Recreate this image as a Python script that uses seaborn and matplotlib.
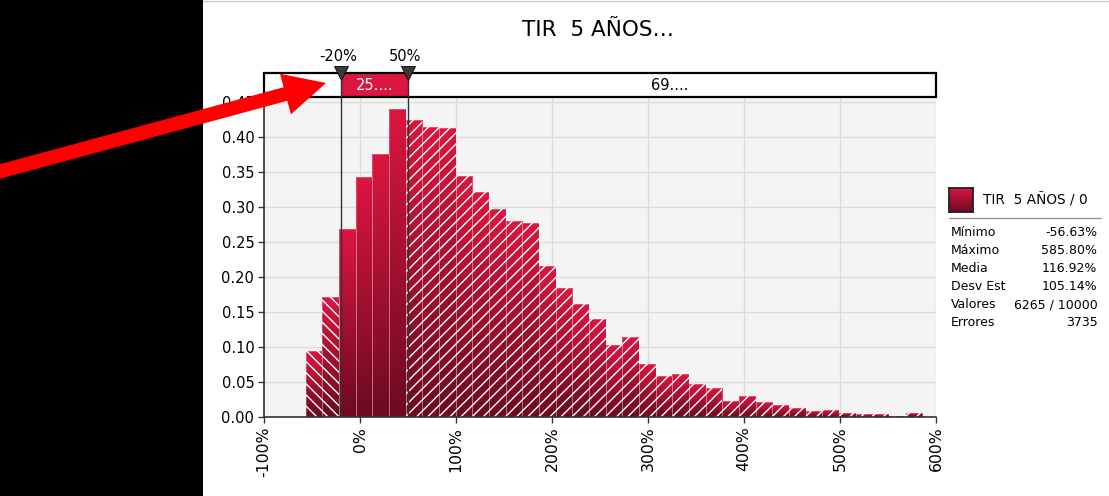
import numpy as np
import pandas as pd
import matplotlib
matplotlib.use("Agg")
import matplotlib.pyplot as plt
import seaborn as sns
from matplotlib.colors import LinearSegmentedColormap
from matplotlib.patches import Rectangle, FancyArrow
from matplotlib.lines import Line2D
from matplotlib.transforms import IdentityTransform

# datos del histograma (densidad por bin)
val_min = -56.63
val_max = 585.80
n_bins = 37
density = [0.095, 0.172, 0.268, 0.343, 0.376, 0.440, 0.424, 0.414, 0.413, 0.344,
           0.321, 0.297, 0.280, 0.277, 0.216, 0.184, 0.161, 0.140, 0.103, 0.115,
           0.076, 0.059, 0.061, 0.047, 0.041, 0.023, 0.030, 0.021, 0.017, 0.013,
           0.009, 0.010, 0.006, 0.004, 0.004, 0.0014, 0.006]

lim_lo, lim_hi = -20, 50
region_labels = ["", "25....", "69...."]
x_ticks = [-100, 0, 100, 200, 300, 400, 500, 600]
y_ticks = [0.00, 0.05, 0.10, 0.15, 0.20, 0.25, 0.30, 0.35, 0.40, 0.45]

title = "TIR  5 AÑOS…"
series_name = "TIR  5 AÑOS / 0"
stat_names = ["Mínimo", "Máximo", "Media", "Desv Est", "Valores", "Errores"]
stat_values = ["-56.63%", "585.80%", "116.92%", "105.14%", "6265 / 10000", "3735"]

W, H = 1109, 496
def px(x, y, w, h):
    return [x / W, 1 - (y + h) / H, w / W, h / H]

sns.set_style("white")
plt.rcParams["font.family"] = ["DejaVu Sans"]
plt.rcParams["hatch.linewidth"] = 1.0
plt.rcParams["text.color"] = "black"
plt.rcParams["xtick.color"] = "black"
plt.rcParams["ytick.color"] = "black"

crimson = "#dc1640"
cmap = LinearSegmentedColormap.from_list("tir", ["#6c0a20", crimson])
grad = np.linspace(0, 1, 256).reshape(-1, 1)

fig = plt.figure(figsize=(W / 100, H / 100), dpi=100)
fig.patch.set_facecolor("white")

# panel negro a la izquierda
fig.add_artist(Rectangle((0, 0), 203 / W, 1, transform=fig.transFigure,
                         facecolor="black", edgecolor="none", zorder=1))
fig.add_artist(Line2D([203 / W, 1], [1 - 0.5 / H, 1 - 0.5 / H], transform=fig.transFigure,
                      color="#c8c8c8", lw=1, zorder=1))

ax = fig.add_axes(px(264, 97, 672, 320))
ax.set_facecolor("#f4f4f4")

edges = np.linspace(val_min, val_max, n_bins + 1)
centers = (edges[:-1] + edges[1:]) / 2
bw = edges[1] - edges[0]
df = pd.DataFrame({"tir": centers, "density": density})

sns.histplot(data=df, x="tir", weights="density", binwidth=bw, binrange=(val_min, val_max),
             stat="count", ax=ax, color=crimson, alpha=1, linewidth=0,
             edgecolor="none", zorder=2)

# degradado por barra
for p in list(ax.patches):
    x0 = p.get_x()
    w, h = p.get_width(), p.get_height()
    im = ax.imshow(grad, cmap=cmap, origin="lower", aspect="auto",
                   extent=[x0, x0 + w, 0, h], zorder=2.1, interpolation="bilinear")
    im.set_clip_path(p)

# rayado fuera del rango seleccionado
dens = np.array(density)
left = centers < lim_lo
right = centers > lim_hi
ax.bar(centers[left], dens[left], width=bw, fill=False, hatch="\\\\\\",
       edgecolor="white", linewidth=0, zorder=2.2)
ax.bar(centers[right], dens[right], width=bw, fill=False, hatch="///",
       edgecolor="white", linewidth=0, zorder=2.2)
ax.bar(centers, dens, width=bw, fill=False, edgecolor=(1, 1, 1, 0.25),
       linewidth=0.7, zorder=2.3)

for xv in (lim_lo, lim_hi):
    ax.axvline(xv, color="#333333", lw=1, zorder=3)

ax.set_xlim(-100, 600)
ax.set_ylim(0, 320 / 700)
ax.set_xticks(x_ticks)
ax.set_xticklabels([f"{t}%" for t in x_ticks], rotation=90, fontsize=11.3)
ax.set_yticks(y_ticks)
ax.set_yticklabels([f"{t:.2f}" for t in y_ticks], fontsize=10.5)
ax.set_xlabel("")
ax.set_ylabel("")
ax.grid(True, color="#dcdcdc", lw=1)
ax.set_axisbelow(True)
for s in ("top", "right"):
    ax.spines[s].set_visible(False)
for s in ("left", "bottom"):
    ax.spines[s].set_color("#333333")
    ax.spines[s].set_linewidth(1.2)
ax.tick_params(axis="both", direction="out", length=4, width=1, color="#333333",
               labelcolor="black", pad=3, left=True, bottom=True)

# tapa la parte superior de la etiqueta 0.45
fig.add_artist(Rectangle((203 / W, 1 - 96 / H), 61 / W, 36 / H, transform=fig.transFigure,
                         facecolor="white", edgecolor="none", zorder=1))

# barra de rangos superior
bx = fig.add_axes(px(264, 73, 672, 24), zorder=2)
bx.set_xlim(-100, 600)
bx.set_ylim(0, 1)
bx.axis("off")
bx.add_patch(Rectangle((-100, 0), 700, 1, facecolor="white", edgecolor="none"))
bx.add_patch(Rectangle((lim_lo, 0), lim_hi - lim_lo, 1, facecolor=crimson, edgecolor="none"))
bx.add_patch(Rectangle((-100, 0), 700, 1, facecolor="none", edgecolor="black", lw=1.6,
                       clip_on=False))
for xv in (lim_lo, lim_hi):
    bx.plot([xv, xv], [0, 1], color="#333333", lw=1)
bx.plot([lim_lo, lim_hi], [1, 1], ls="none", marker="v", markersize=10,
        color="#3a3a3a", markeredgecolor="black", markeredgewidth=0.6, clip_on=False)
for xv in (lim_lo, lim_hi):
    bx.text(xv - 3, 1.7, f"{xv}%", ha="center", va="center", fontsize=10.5)
bx.text((lim_lo + lim_hi) / 2, 0.5, region_labels[1], color="white",
        ha="center", va="center", fontsize=10.5)
bx.text((lim_hi + 600) / 2 - 2, 0.5, region_labels[2], color="black",
        ha="center", va="center", fontsize=10.5)

fig.text(598 / W, 1 - 30 / H, title, ha="center", va="center", fontsize=15.5)

# leyenda y estadísticas
lx = fig.add_axes(px(949, 188, 24, 24))
lx.imshow(grad, cmap=cmap, origin="lower", aspect="auto")
lx.set_xticks([])
lx.set_yticks([])
for s in lx.spines.values():
    s.set_color("#222222")
    s.set_linewidth(1.3)
fig.text(983 / W, 1 - 200 / H, series_name, ha="left", va="center", fontsize=9.8)
fig.add_artist(Line2D([949 / W, 1101 / W], [1 - 217.5 / H] * 2, transform=fig.transFigure,
                      color="#999999", lw=1))
for i, (n, v) in enumerate(zip(stat_names, stat_values)):
    yy = 1 - (232 + i * 18.2) / H
    fig.text(951 / W, yy, n, ha="left", va="center", fontsize=9)
    fig.text(1097.5 / W, yy, v, ha="right", va="center", fontsize=9)

# flecha roja
tip = (326, H - 83)
start = (-2, H - 172)
fig.add_artist(FancyArrow(start[0], start[1], tip[0] - start[0], tip[1] - start[1],
                          width=14, head_width=42, head_length=42,
                          length_includes_head=True, transform=IdentityTransform(),
                          color="#ff0000", lw=0, zorder=10))

fig.savefig("out.png", dpi=100)
